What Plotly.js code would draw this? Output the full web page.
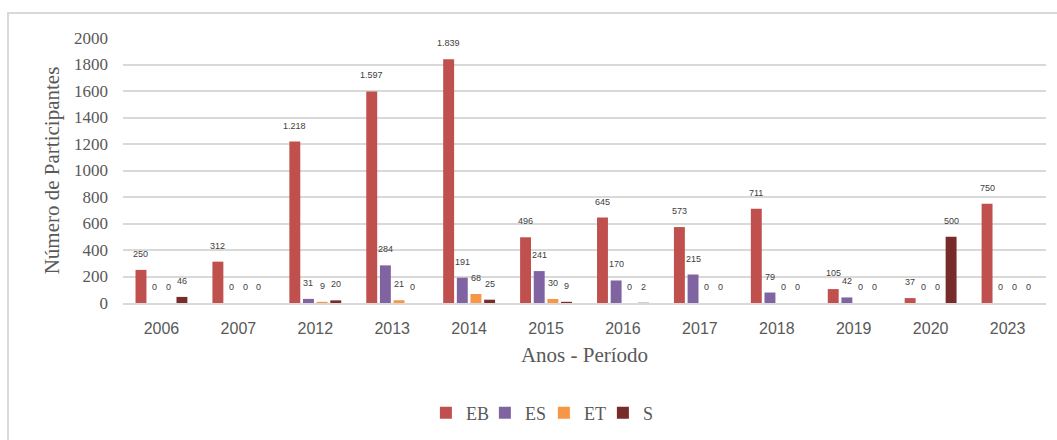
<!DOCTYPE html>
<html>
<head>
<meta charset="utf-8">
<script src="https://cdn.plot.ly/plotly-3.0.1.min.js"></script>
<style>
  html, body { margin: 0; padding: 0; background: #fff; }
  #wrap { position: relative; width: 1057px; height: 440px; overflow: hidden; }
  #chart { position: absolute; left: 0; top: 0; width: 1057px; height: 440px; }
  #frame { position: absolute; left: 7px; top: 12px; width: 1100px; height: 500px;
           border-left: 2px solid #d9d9d9; border-top: 2px solid #d9d9d9; pointer-events: none; }
</style>
</head>
<body>
<div id="wrap">
  <div id="chart"></div>
  <div id="frame"></div>
</div>
<script>
const years = ["2006", "2007", "2012", "2013", "2014", "2015", "2016", "2017", "2018", "2019", "2020", "2023"];
const EB = [250, 312, 1218, 1597, 1839, 496, 645, 573, 711, 105, 37, 750];
const ES = [0, 0, 31, 284, 191, 241, 170, 215, 79, 42, 0, 0];
const ET = [0, 0, 9, 21, 68, 30, 0, 0, 0, 0, 0, 0];
const S  = [46, 0, 20, 0, 25, 9, 2, 0, 0, 0, 500, 0];
const seriesNames = ["EB", "ES", "ET", "S"];
const seriesColors = ["#C0504D", "#8064A2", "#F79646", "#772C2A"];
const yTicks = [0, 200, 400, 600, 800, 1000, 1200, 1400, 1600, 1800, 2000];

const series = [EB, ES, ET, S];
const W = 1057, H = 440;
const margin = { l: 123, r: 11, t: 38, b: 137 };
const bargap = 0.29, bargroupgap = 0.2;

const fmt = v => String(v).replace(/\B(?=(\d{3})+(?!\d))/g, ".");

const traces = series.map((vals, i) => ({
  type: "bar",
  name: seriesNames[i],
  x: years,
  y: vals,
  marker: { color: seriesColors[i], line: { width: 0 } },
  hoverinfo: "x+y+name"
}));

const plotW = W - margin.l - margin.r;
const catW = plotW / years.length;
const slot = catW * (1 - bargap) / series.length;
const annotations = [];
series.forEach((vals, i) => {
  const off = slot * (i - (series.length - 1) / 2);
  vals.forEach((v, j) => {
    annotations.push({
      xref: "x", yref: "y", x: j, y: v,
      text: fmt(v), showarrow: false,
      xshift: off, yshift: 16, yanchor: "middle", xanchor: "center",
      font: { family: "Liberation Sans, Arial, sans-serif", size: 9, color: "#404040" }
    });
  });
});

const layout = {
  width: W, height: H,
  margin: Object.assign({ autoexpand: false }, margin),
  paper_bgcolor: "rgba(0,0,0,0)",
  plot_bgcolor: "rgba(0,0,0,0)",
  barmode: "group",
  bargap: bargap,
  bargroupgap: bargroupgap,
  showlegend: true,
  legend: {
    orientation: "h", x: 0.456, xanchor: "center", y: -0.415, yanchor: "middle",
    font: { family: "Liberation Serif, Times New Roman, serif", size: 18, color: "#595959" },
    traceorder: "normal", itemwidth: 30, entrywidth: 14
  },
  xaxis: {
    type: "category",
    automargin: false,
    categoryorder: "array", categoryarray: years,
    range: [-0.5, years.length - 0.5],
    showgrid: false,
    showline: true, linecolor: "#d9d9d9", linewidth: 2,
    ticks: "", ticklabelstandoff: 10,
    tickfont: { family: "Liberation Sans, Arial, sans-serif", size: 16, color: "#595959" },
    title: { text: "Anos - Período", standoff: 11,
      font: { family: "Liberation Serif, Times New Roman, serif", size: 21, color: "#595959" } },
    fixedrange: true
  },
  yaxis: {
    automargin: false,
    range: [0, 2000],
    tickvals: yTicks,
    ticktext: yTicks.map(String),
    showgrid: true, gridcolor: "#d9d9d9", gridwidth: 2,
    zeroline: false, showline: false,
    ticks: "", ticklabelstandoff: 14,
    tickfont: { family: "Liberation Serif, Times New Roman, serif", size: 17, color: "#595959" },
    title: { text: "Número de Participantes", standoff: 8,
      font: { family: "Liberation Serif, Times New Roman, serif", size: 21, color: "#595959" } },
    fixedrange: true
  },
  annotations: annotations
};

Plotly.newPlot("chart", traces, layout, { displayModeBar: false, staticPlot: true });
</script>
</body>
</html>
